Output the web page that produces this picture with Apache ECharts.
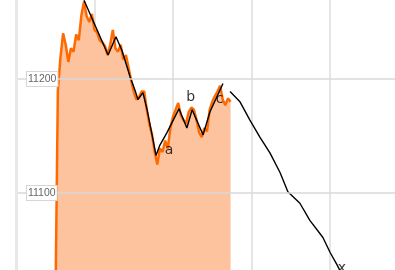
<!DOCTYPE html>
<html><head><meta charset="utf-8">
<script src="https://cdn.jsdelivr.net/npm/echarts@6/dist/echarts.min.js"></script>
<style>html,body{margin:0;padding:0;background:#fff}#c{width:395px;height:270px}</style>
</head><body><div id="c"></div>
<script>
// price series: x index and value
const priceX = [];
for (let i = 15; i <= 82; i++) priceX.push(i);
const priceY = [10990,11190,11219,11240,11230,11215,11227,11224,11239,11234,11256,11268,11255,11250,11257,11243,11241,11234,11232,11229,11221,11230,11243,11227,11224,11230,11217,11221,11210,11199,11189,11182,11184,11189,11189,11173,11160,11151,11136,11125,11139,11136,11146,11139,11157,11167,11173,11179,11168,11164,11161,11171,11175,11173,11164,11153,11149,11157,11154,11173,11180,11185,11189,11194,11182,11177,11183,11180];
// hand-drawn annotation strokes
const stroke1X = [26.0,31.0,35.2,38.2,40.5,43.6,45.5,46.6,48.5,50.1,52.0,53.5,55.0,57.7,62.3,65.3,67.3,71.5,74.1,79.1];
const stroke1Y = [11269,11243,11221,11237,11225,11202,11190,11182,11188,11173,11151,11133,11142,11153,11174,11157,11173,11151,11171,11196];
const stroke2X = [81.8,85.6,89.4,93.2,97.1,100.9,103.9,108.5,112.3,117.3,120.0,122.7,123.8];
const stroke2Y = [11189,11180,11164,11149,11135,11118,11101,11091,11076,11061,11048,11037,11032];
const noteText = ['a','b','c','x'];
const noteX = [58.5,66.8,77.8,124.5];
const noteY = [11137,11184,11182,11034];
const yTicks = [11000,11100,11200,11300];

const zip = (a,b)=>a.map((v,i)=>[v,b[i]]);
const chart = echarts.init(document.getElementById('c'));
chart.setOption({
  animation:false,
  grid:{left:16, top:-35, bottom:-37, width:392.5, outerBoundsMode:'none', containLabel:false},
  xAxis:{type:'value', min:0, max:150, interval:30,
    axisLine:{show:false}, axisTick:{show:false}, axisLabel:{show:false},
    splitLine:{show:true, lineStyle:{color:'#dcdcdc', width:1.5}}},
  yAxis:{type:'value', min:yTicks[0], max:yTicks[yTicks.length-1], interval:100, z:10,
    axisLine:{show:true, lineStyle:{color:'#e8e8e8', width:3}},
    axisTick:{show:false},
    axisLabel:{inside:true, margin:11, color:'#666', fontSize:10.5, fontFamily:'Liberation Sans',
      formatter:v=>String(v),
      backgroundColor:'#fff', borderColor:'#d6d6d6', borderWidth:1, padding:[2,1,1,1]},
    splitLine:{show:true, lineStyle:{color:'#d8d8d8', width:1.5}}},
  series:[
    {type:'line', data:zip(priceX,priceY), symbol:'none', z:2,
      lineStyle:{color:'#ff6a00', width:2.5},
      areaStyle:{color:'#fdc29e', opacity:1, origin:'start'}},
    {type:'line', data:zip(stroke1X,stroke1Y), symbol:'none', z:3,
      lineStyle:{color:'#000', width:1.4}},
    {type:'line', data:zip(stroke2X,stroke2Y), symbol:'none', z:3,
      lineStyle:{color:'#000', width:1.4}},
    {type:'scatter', symbolSize:0, z:4,
      data:noteText.map((t,i)=>({value:[noteX[i],noteY[i]], name:t})),
      label:{show:true, position:'inside', formatter:p=>p.name, color:'#000',
        fontSize:14, fontFamily:'DejaVu Sans', fontWeight:'normal'}}
  ]
});
</script></body></html>
